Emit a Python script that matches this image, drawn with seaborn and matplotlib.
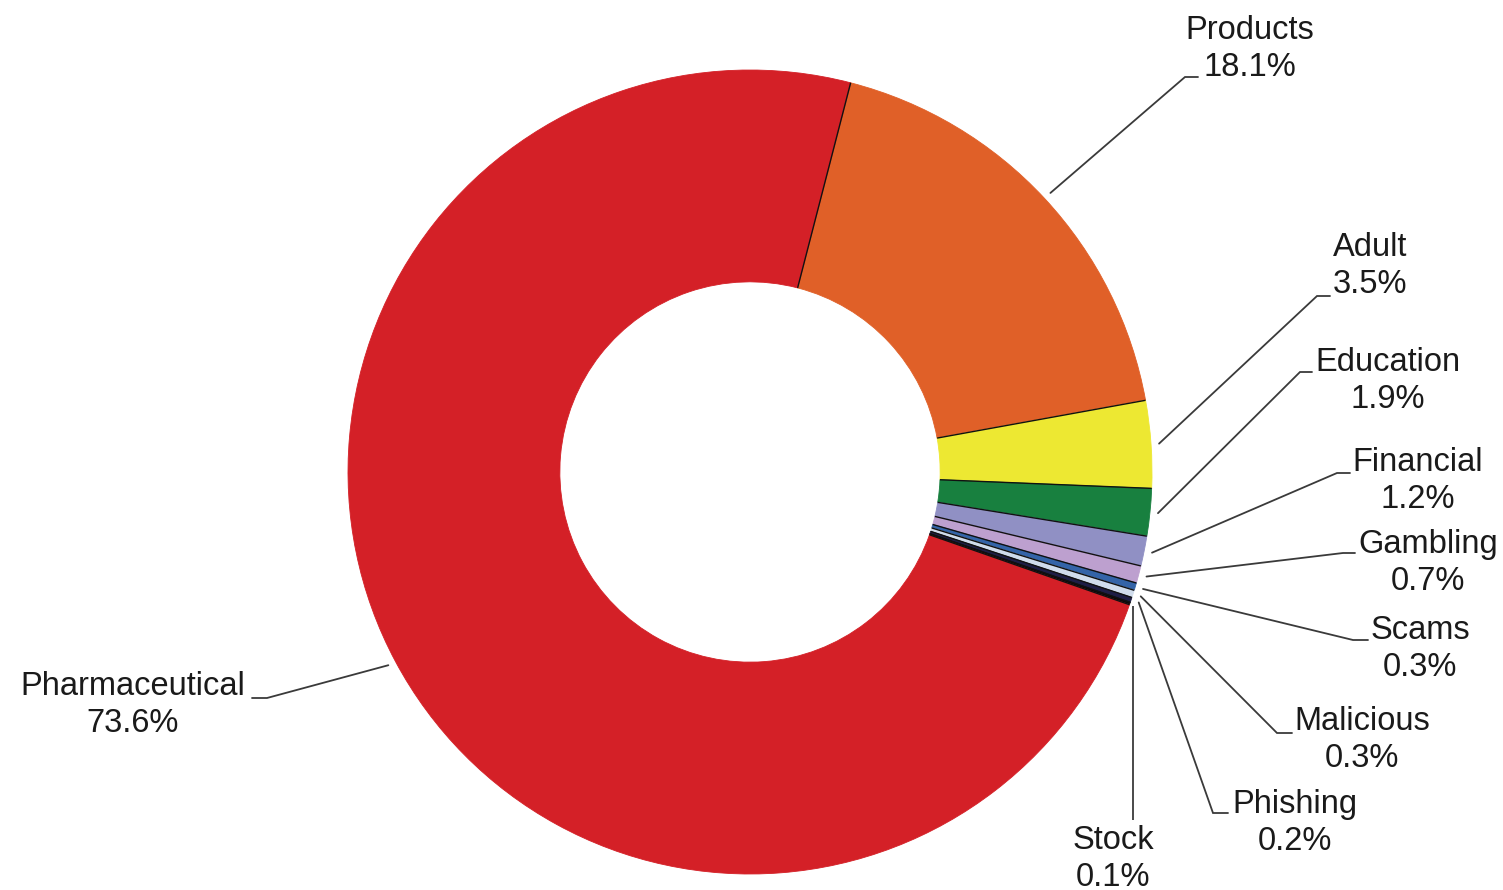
import numpy as np
import matplotlib
matplotlib.use("Agg")
import matplotlib.pyplot as plt
import seaborn as sns

# ---- data ----
categories = ["Products", "Adult", "Education", "Financial", "Gambling",
              "Scams", "Malicious", "Phishing", "Stock", "Pharmaceutical"]
shares = [18.1, 3.5, 1.9, 1.2, 0.7, 0.3, 0.3, 0.2, 0.1, 73.6]
slice_colors = ["#E06028", "#EDE832", "#18803F", "#9090C4", "#BDA0CF",
                "#3464A8", "#D0DCEC", "#1E1E46", "#0A0A0A", "#D42027"]

sns.set_theme(style="white")
plt.rcParams['font.family'] = ['Liberation Sans', 'DejaVu Sans']

W, H = 1503, 890
fig = plt.figure(figsize=(W / 100, H / 100), dpi=100)
ax = fig.add_axes([0, 0, 1, 1])

CX, CY, R = 750, 472, 402  # pixel centre and radius of the donut
WIDTH = 0.527


def px(x, y):
    return ((x - CX) / R, (CY - y) / R)


wedges, _ = ax.pie(shares, colors=slice_colors, startangle=75.5,
                   counterclock=False, radius=1.0,
                   wedgeprops=dict(width=WIDTH, linewidth=0.6))
for w in wedges:
    w.set_edgecolor(w.get_facecolor())

# thin dark separators between slices
for w in wedges:
    t = np.deg2rad(w.theta1)
    r_in = 1.0 - WIDTH
    ax.plot([r_in * np.cos(t), np.cos(t)], [r_in * np.sin(t), np.sin(t)],
            color="#111111", lw=1.0, solid_capstyle="butt")

ax.set_xlim(-CX / R, (W - CX) / R)
ax.set_ylim(-(H - CY) / R, CY / R)
ax.set_aspect("equal")
ax.axis("off")

# label layout: (text centre, elbow point, horizontal end point) in pixels
layout = {
    "Products":       ((1250, 49),  (1185, 77),  (1198, 77)),
    "Adult":          ((1370, 266), (1317, 296), (1330, 296)),
    "Education":      ((1388, 381), (1300, 372), (1312, 372)),
    "Financial":      ((1418, 481), (1337, 473), (1350, 473)),
    "Gambling":       ((1428, 563), (1343, 553), (1355, 553)),
    "Scams":          ((1420, 649), (1353, 640), (1368, 640)),
    "Malicious":      ((1362, 740), (1277, 733), (1292, 733)),
    "Phishing":       ((1295, 823), (1213, 813), (1228, 813)),
    "Stock":          ((1113, 859), (1133, 820), (1133, 820)),
    "Pharmaceutical": ((133, 705),  (267, 698),  (252, 698)),
}

line_col = "#3a3a3a"
for w, name, val in zip(wedges, categories, shares):
    mid = np.deg2rad((w.theta1 + w.theta2) / 2)
    r0 = 1.02
    sx, sy = r0 * np.cos(mid), r0 * np.sin(mid)
    (tx, ty), elbow, end = layout[name]
    if name == "Stock":
        ex, ey = px(*elbow)
        ax.plot([ex, ex], [sy, ey], color=line_col, lw=1.3, solid_capstyle="butt")
    else:
        ex, ey = px(*elbow)
        hx, hy = px(*end)
        ax.plot([sx, ex, hx], [sy, ey, hy], color=line_col, lw=1.3,
                solid_joinstyle="miter")
    x, y = px(tx, ty)
    ax.text(x, y, f"{name}\n{val:.1f}%", ha="center", va="center",
            multialignment="center", fontsize=23.5, color="#1a1a1a",
            linespacing=1.22)

fig.savefig("out.png", dpi=100, facecolor="white")
